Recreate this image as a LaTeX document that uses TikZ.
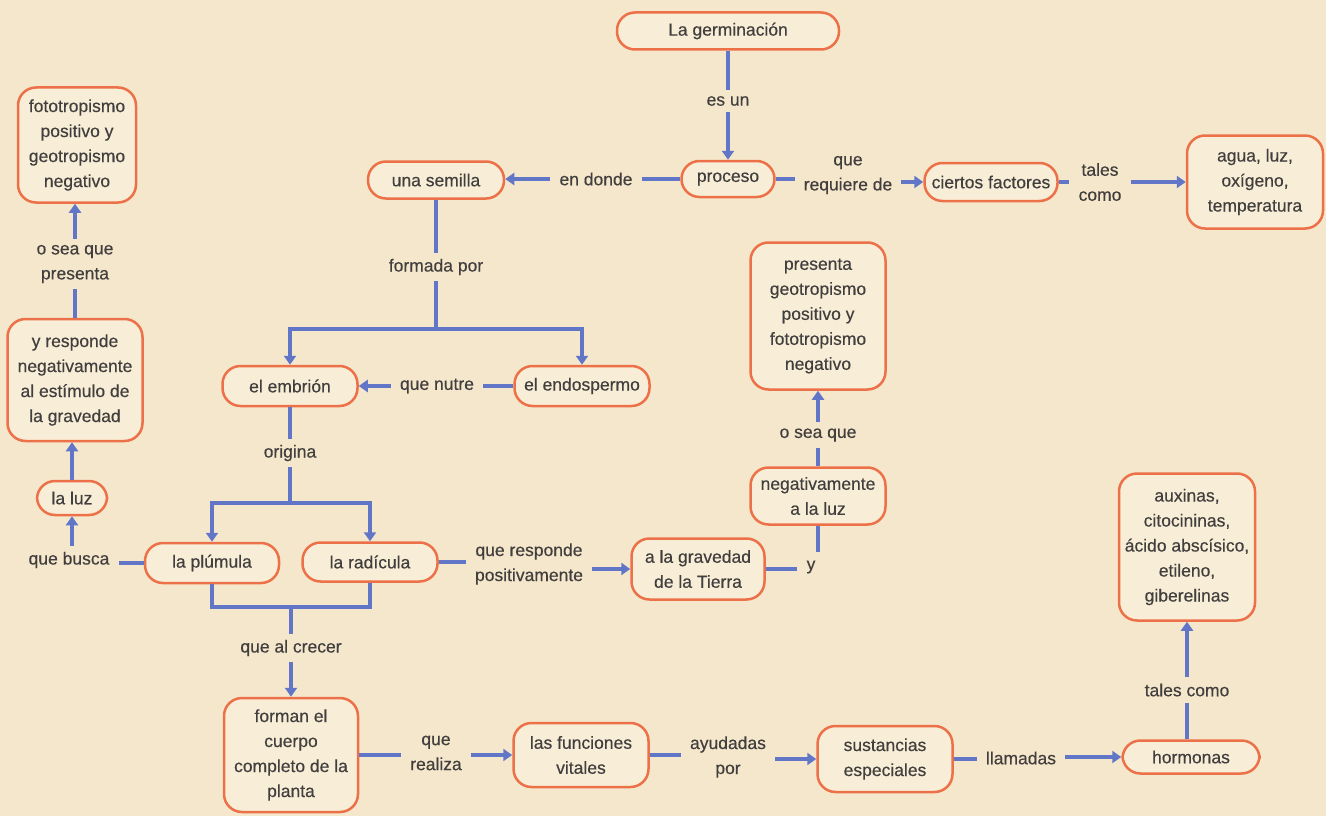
\documentclass[tikz,border=0pt]{standalone}
\usepackage{fontspec}
\setmainfont[FakeBold=0.35]{Liberation Sans}
\usetikzlibrary{arrows.meta}
\definecolor{bg}{RGB}{245,231,204}
\definecolor{nodefill}{RGB}{248,237,214}
\definecolor{bord}{RGB}{236,112,72}
\definecolor{lnk}{RGB}{98,118,200}
\definecolor{txt}{RGB}{65,62,62}
\begin{document}
\begin{tikzpicture}[x=1pt,y=-1pt,
  every node/.style={font=\fontsize{17.5}{25}\selectfont, text=txt},
  box/.style={draw=bord, line width=2.5pt, fill=nodefill, rounded corners=18pt, align=center, inner sep=2pt},
  lbl/.style={align=center, inner xsep=9pt, inner ysep=6pt},
  ln/.style={draw=lnk, line width=4.5pt},
  arr/.style={ln, -{Triangle[length=9pt,width=12pt]}}
]
\fill[bg] (0,0) rectangle (1326,816);
\useasboundingbox (0,0) rectangle (1326,816);

% boxes
\node[box, minimum width=222pt, minimum height=37pt] (germ) at (728,31) {La germinación};
\node[box, minimum width=93pt, minimum height=36pt] (proceso) at (728,179) {proceso};
\node[box, minimum width=136pt, minimum height=37pt] (semilla) at (436,180) {una semilla};
\node[box, minimum width=133pt, minimum height=38pt] (factores) at (991,182) {ciertos factores};
\node[box, minimum width=136pt, minimum height=93pt] (agua) at (1255,182) {agua, luz,\\oxígeno,\\temperatura};
\node[box, minimum width=135pt, minimum height=40pt] (embrion) at (290,386) {el embrión};
\node[box, minimum width=135pt, minimum height=40pt] (endosp) at (582,386) {el endospermo};
\node[box, minimum width=134pt, minimum height=40pt] (plumula) at (212,563) {la plúmula};
\node[box, minimum width=135pt, minimum height=39pt] (radicula) at (370,562) {la radícula};
\node[box, minimum width=133pt, minimum height=61pt] (gravedad) at (698,569) {a la gravedad\\de la Tierra};
\node[box, minimum width=135pt, minimum height=57pt] (negluz) at (818,496) {negativamente\\a la luz};
\node[box, minimum width=135pt, minimum height=147pt] (presenta) at (818,316) {presenta\\geotropismo\\positivo y\\fototropismo\\negativo};
\node[box, minimum width=70pt, minimum height=34pt] (luz) at (72,498) {la luz};
\node[box, minimum width=135pt, minimum height=122pt] (yresp) at (75,380) {y responde\\negativamente\\al estímulo de\\la gravedad};
\node[box, minimum width=118pt, minimum height=115pt] (fotot) at (77,145) {fototropismo\\positivo y\\geotropismo\\negativo};
\node[box, minimum width=134pt, minimum height=114pt] (forman) at (291,755) {forman el\\cuerpo\\completo de la\\planta};
\node[box, minimum width=135pt, minimum height=64pt] (funciones) at (581,755) {las funciones\\vitales};
\node[box, minimum width=135pt, minimum height=66pt] (sustancias) at (885,759) {sustancias\\especiales};
\node[box, minimum width=137pt, minimum height=33pt] (hormonas) at (1191,757) {hormonas};
\node[box, minimum width=136pt, minimum height=147pt] (auxinas) at (1187,547) {auxinas,\\citocininas,\\ácido abscísico,\\etileno,\\giberelinas};

% labels
\node[lbl] (esun) at (728,101) {es un};
\node[lbl] (endonde) at (596,179) {en donde};
\node[lbl] (requiere) at (848,175) {que\\requiere de};
\node[lbl] (tales1) at (1100,182) {tales\\como};
\node[lbl] (formada) at (436,267) {formada por};
\node[lbl] (quenutre) at (437,386) {que nutre};
\node[lbl] (origina) at (290,453) {origina};
\node[lbl] (quebusca) at (69,560) {que busca};
\node[lbl] (responde) at (529,564) {que responde\\positivamente};
\node[lbl] (y) at (811,567) {y};
\node[lbl] (oseaque) at (818,435) {o sea que};
\node[lbl] (alcrecer) at (291,648) {que al crecer};
\node[lbl] (realiza) at (436,753) {que\\realiza};
\node[lbl] (ayudadas) at (728,757) {ayudadas\\por};
\node[lbl] (llamadas) at (1021,758) {llamadas};
\node[lbl] (tales2) at (1187,690) {tales como};
\node[lbl] (oseapres) at (75,264) {o sea que\\presenta};

% branch coordinates
\coordinate (fb) at (436,329);
\coordinate (b1) at (290,329);
\coordinate (b2) at (582,329);
\coordinate (ob) at (290,503);
\coordinate (o1) at (212,503);
\coordinate (o2) at (370,503);
\coordinate (p1) at (212,607);
\coordinate (p2) at (370,607);
\coordinate (pm) at (291,607);
\coordinate (yv) at (818,552);

% connectors
\draw[ln] (germ.south) -- (esun.north);
\draw[arr] (esun.south) -- (proceso.north);
\draw[ln] (proceso.west) -- (proceso.west -| endonde.east);
\draw[arr] (endonde.west) -- (endonde.west -| semilla.east);
\draw[ln] (proceso.east) -- (proceso.east -| requiere.west);
\draw[arr] (requiere.east |- factores.west) -- (factores.west);
\draw[ln] (factores.east) -- (factores.east -| tales1.west);
\draw[arr] (tales1.east |- agua.west) -- (agua.west);

\draw[ln] (semilla.south) -- (formada.north);
\draw[ln] (formada.south) -- (fb);
\draw[ln, line cap=rect] (b1) -- (b2);
\draw[arr] (b1) -- (embrion.north);
\draw[arr] (b2) -- (endosp.north);
\draw[ln] (endosp.west) -- (endosp.west -| quenutre.east);
\draw[arr] (quenutre.west) -- (quenutre.west -| embrion.east);

\draw[ln] (embrion.south) -- (origina.north);
\draw[ln] (origina.south) -- (ob);
\draw[ln, line cap=rect] (o1) -- (o2);
\draw[arr] (o1) -- (plumula.north);
\draw[arr] (o2) -- (radicula.north);

\draw[ln] (plumula.south) -- (p1);
\draw[ln] (radicula.south) -- (p2);
\draw[ln, line cap=rect] (p1) -- (p2);
\draw[ln] (pm) -- (alcrecer.north);
\draw[arr] (alcrecer.south) -- (forman.north);

\draw[ln] (plumula.west) -- (plumula.west -| quebusca.east);
\draw[arr] (quebusca.north -| luz.south) -- (luz.south);
\draw[arr] (luz.north) -- (luz.north |- yresp.south);
\draw[ln] (yresp.north) -- (yresp.north |- oseapres.south);
\draw[arr] (oseapres.north) -- (oseapres.north |- fotot.south);

\draw[ln] (radicula.east) -- (radicula.east -| responde.west);
\draw[arr] (responde.east |- gravedad.west) -- (gravedad.west);
\draw[ln] (gravedad.east) -- (gravedad.east -| y.west);
\draw[ln] (yv) -- (yv |- negluz.south);
\draw[ln] (negluz.north) -- (oseaque.south);
\draw[arr] (oseaque.north) -- (presenta.south);

\draw[ln] (forman.east) -- (forman.east -| realiza.west);
\draw[arr] (realiza.east |- funciones.west) -- (funciones.west);
\draw[ln] (funciones.east) -- (funciones.east -| ayudadas.west);
\draw[arr] (ayudadas.east |- sustancias.west) -- (sustancias.west);
\draw[ln] (sustancias.east) -- (sustancias.east -| llamadas.west);
\draw[arr] (llamadas.east |- hormonas.west) -- (hormonas.west);
\draw[ln] (hormonas.north -| tales2.south) -- (tales2.south);
\draw[arr] (tales2.north) -- (tales2.north |- auxinas.south);
\end{tikzpicture}
\end{document}
